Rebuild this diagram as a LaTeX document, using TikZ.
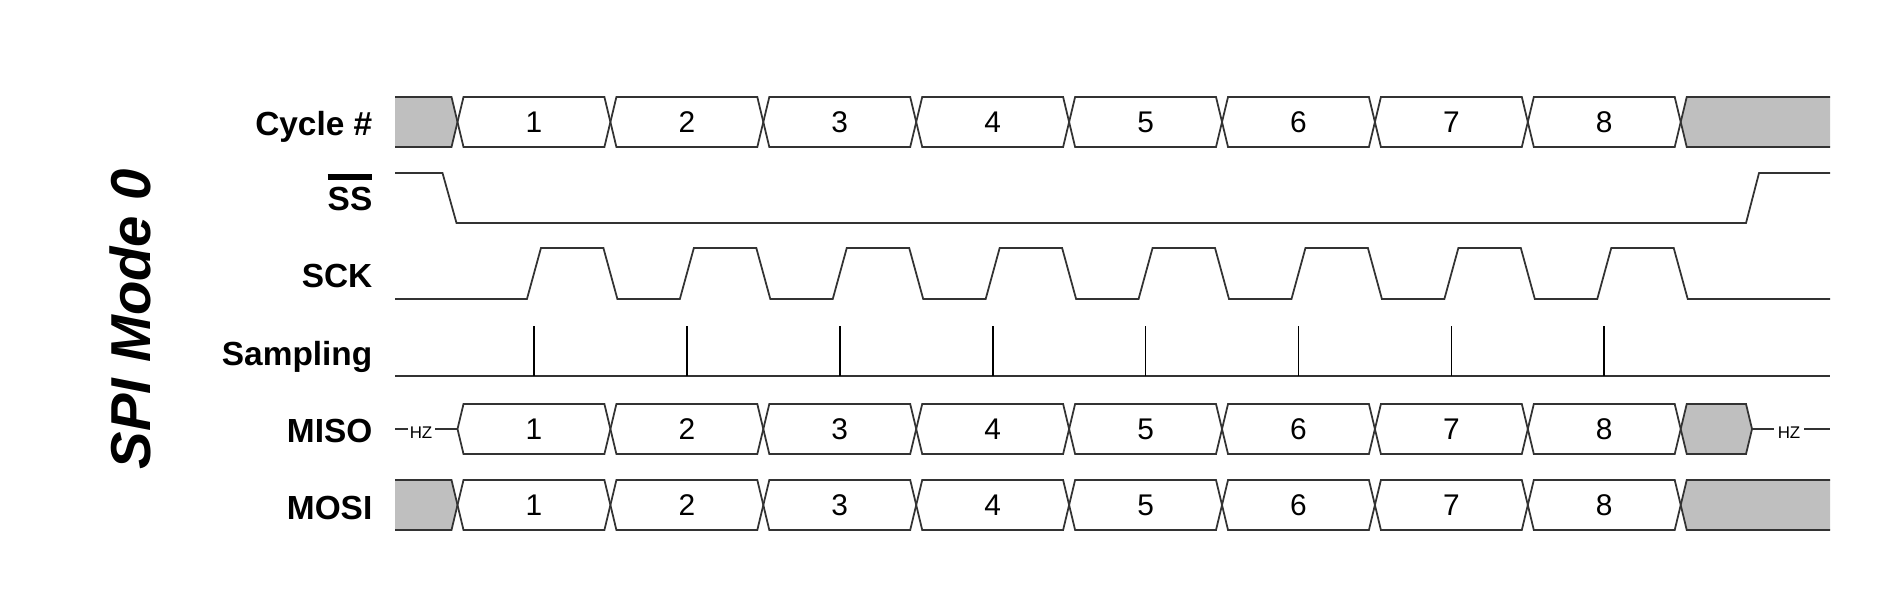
\documentclass[tikz,border=0pt]{standalone}
\usepackage{fontspec}
\setmainfont{Liberation Sans}
\usepackage{tikz}
\newcommand{\barText}[1]{%%
  %% Text with a heavy bar above it (active low signal).
  \setbox0\hbox{#1}%%
  \rlap{\rule[\dimexpr\ht0+2pt\relax]{\wd0}{1.5pt}}\box0%%
}
\newcommand{\hexCells}[3]{%%
  %% Eight numbered cells of a bus between #1 (top) and #2 (bottom).
  \foreach \k in {1,...,8}{%%
    \pgfmathsetmacro{\xl}{\tzero+(\k-1)*\period}
    \pgfmathsetmacro{\xr}{\xl+\period}
    \pgfmathsetmacro{\ymid}{(#1+#2)/2}
    \draw[lineStyle] (\xl,\ymid) -- (\xl+\half,#1) -- (\xr-\half,#1) --
    (\xr,\ymid) -- (\xr-\half,#2) -- (\xl+\half,#2) -- cycle;
    \node[numStyle] (#3-\k) at ({(\xl+\xr)/2},\ymid) {\k};
  }%%
}
\newcommand{\greyLeft}[2]{%%
  %% Grey part of a bus before the first cell.
  \pgfmathsetmacro{\ymid}{(#1+#2)/2}
  \fill[greyStyle] (\xstart,#1) -- (\tzero-\half,#1) -- (\tzero,\ymid) --
  (\tzero-\half,#2) -- (\xstart,#2) -- cycle;
  \draw[lineStyle] (\xstart,#1) -- (\tzero-\half,#1) -- (\tzero,\ymid) --
  (\tzero-\half,#2) -- (\xstart,#2);
}
\newcommand{\greyRight}[2]{%%
  %% Grey part of a bus after the last cell.
  \pgfmathsetmacro{\ymid}{(#1+#2)/2}
  \fill[greyStyle] (\xend,#1) -- (\teight+\half,#1) -- (\teight,\ymid) --
  (\teight+\half,#2) -- (\xend,#2) -- cycle;
  \draw[lineStyle] (\xend,#1) -- (\teight+\half,#1) -- (\teight,\ymid) --
  (\teight+\half,#2) -- (\xend,#2);
}
\begin{document}
\begin{tikzpicture}[%%
  x=0.01cm,y=-0.01cm,%%
  lineStyle/.style={-,line width=0.5pt,black!80},%%
  greyStyle/.style={fill=gray!50},%%
  tickStyle/.style={-,line width=0.5pt,black},%%
  numStyle/.style={inner sep=0pt,font=\fontsize{8.5}{10}\selectfont},%%
  hzStyle/.style={inner sep=0pt,font=\fontsize{4.8}{6}\selectfont},%%
  labelStyle/.style={inner sep=0pt,anchor=base east,%%
    font=\fontsize{9.5}{11}\selectfont\bfseries}%%
]
%%
%%
\useasboundingbox (0,0) rectangle (1904,594);
\pgfmathsetmacro{\period}{152.9}  %% Length of one cycle.
\pgfmathsetmacro{\half}{6}        %% Half width of a bus crossing.
\pgfmathsetmacro{\ramp}{7}        %% Half width of a clock edge.
\pgfmathsetmacro{\xstart}{395}
\pgfmathsetmacro{\xend}{1830}
\pgfmathsetmacro{\tzero}{457.5}
\pgfmathsetmacro{\teight}{\tzero+8*\period}
\pgfmathsetmacro{\tz}{1752}
\pgfmathsetmacro{\xlabel}{373}
%%
%%
%% Title and row labels.
\node[rotate=90,inner sep=0pt,font=\fontsize{16}{19}\selectfont\bfseries\itshape]
  (modeTitle) at (130,319) {SPI Mode 0};
\node[labelStyle] (cycleLabel) at (\xlabel,135) {Cycle \#};
\node[labelStyle] (ssLabel) at (\xlabel,210) {\barText{SS}};
\node[labelStyle] (sckLabel) at (\xlabel,287) {SCK};
\node[labelStyle] (samplingLabel) at (\xlabel,365) {Sampling};
\node[labelStyle] (misoLabel) at (\xlabel,442) {MISO};
\node[labelStyle] (mosiLabel) at (\xlabel,519) {MOSI};
%%
%% Cycle count.
\greyLeft{97}{147}
\hexCells{97}{147}{cycle}
\greyRight{97}{147}
%%
%% Slave select.
\draw[lineStyle] (\xstart,173) -- (\tzero-15,173) -- (\tzero-1,223) --
  (\tz-6,223) -- (\tz+7,173) -- (\xend,173);
%%
%% Clock.
\draw[lineStyle] (\xstart,299)
  \foreach \k in {1,...,8}{%%
    -- ({\tzero+(\k-0.5)*\period-\ramp},299)
    -- ({\tzero+(\k-0.5)*\period+\ramp},248)
    -- ({\tzero+\k*\period-\ramp},248)
    -- ({\tzero+\k*\period+\ramp},299)
  }
  -- (\xend,299);
%%
%% Sampling points.
\draw[lineStyle] (\xstart,376) -- (\xend,376);
\foreach \k in {1,...,8}
  \draw[tickStyle] ({\tzero+(\k-0.5)*\period},326) --
    ({\tzero+(\k-0.5)*\period},376);
%%
%% MISO, high impedance at both ends.
\draw[lineStyle] (\xstart,429) -- (408,429);
\node[hzStyle] (hzLeft) at (421,433) {HZ};
\draw[lineStyle] (435,429) -- (\tzero,429);
\hexCells{404}{454}{miso}
\fill[greyStyle] (\teight,429) -- (\teight+\half,404) -- (\tz-\half,404) --
  (\tz,429) -- (\tz-\half,454) -- (\teight+\half,454) -- cycle;
\draw[lineStyle] (\teight,429) -- (\teight+\half,404) -- (\tz-\half,404) --
  (\tz,429) -- (\tz-\half,454) -- (\teight+\half,454) -- cycle;
\draw[lineStyle] (\tz,429) -- (1774,429);
\node[hzStyle] (hzRight) at (1789,433) {HZ};
\draw[lineStyle] (1804,429) -- (\xend,429);
%%
%% MOSI.
\greyLeft{480}{530}
\hexCells{480}{530}{mosi}
\greyRight{480}{530}
\end{tikzpicture}
\end{document}
